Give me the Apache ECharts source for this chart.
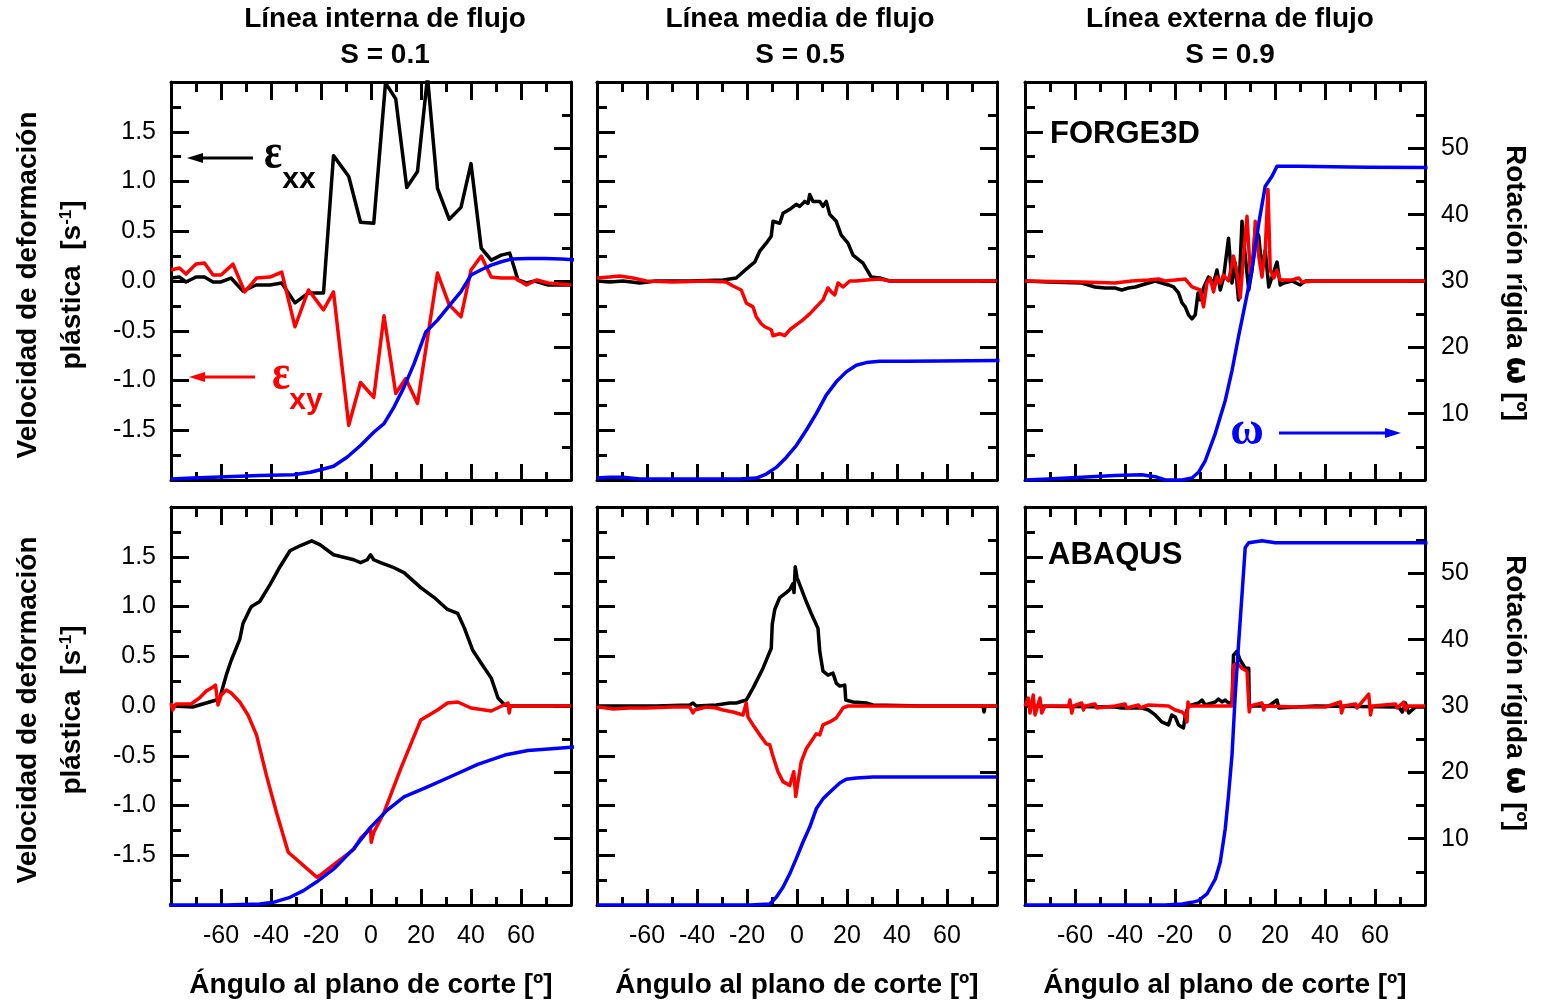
<!DOCTYPE html>
<html><head><meta charset="utf-8">
<script src="https://cdn.jsdelivr.net/npm/echarts/dist/echarts.min.js"></script>
<style>html,body{margin:0;padding:0;background:#fff}#c{width:1543px;height:1005px}</style>
</head><body><div id="c"></div>
<script>
// ---------- DATA ----------
const columnTitles = ['Línea interna de flujo', 'Línea media de flujo', 'Línea externa de flujo'];
const columnS = ['S = 0.1', 'S = 0.5', 'S = 0.9'];
const codeLabels = ['FORGE3D', 'ABAQUS'];
const xAxisTitle = 'Ángulo al plano de corte [º]';
const leftTitleLine1 = 'Velocidad de deformación';
const rightTitle = 'Rotación rígida';

// FORGE3D - inner
const forgeInnerExx = [[-80,0.03],[-76.6,0.04],[-74,-0.01],[-70,0.04],[-66.6,0.04],[-63.2,-0.01],[-60,-0.01],[-56,0.03],[-51.2,-0.1],[-46,-0.04],[-40.4,-0.04],[-35.7,-0.02],[-30.4,-0.22],[-25,-0.12],[-19,-0.12],[-15,1.26],[-8.9,1.05],[-4.2,0.59],[1.1,0.58],[5.8,1.99],[9.9,1.83],[14.3,0.94],[18.6,1.1],[22.6,2.05],[26.6,0.93],[31.3,0.62],[36,0.74],[40,1.18],[44.1,0.33],[48.1,0.21],[52.1,0.26],[55.5,0.28],[58.8,0.01],[62.2,-0.02],[65.5,0.0],[70.9,-0.04],[80,-0.04]];
const forgeInnerExy = [[-80,0.11],[-76.6,0.13],[-74,0.07],[-70,0.17],[-66.6,0.18],[-63.2,0.06],[-60,0.06],[-55.2,0.17],[-50.5,-0.11],[-45.8,0.03],[-40.4,0.04],[-35.7,0.09],[-30.4,-0.46],[-25,-0.09],[-19,-0.29],[-15,-0.11],[-8.9,-1.45],[-4.2,-1.02],[1.1,-1.17],[5.2,-0.35],[9.9,-1.13],[13.9,-0.98],[18.6,-1.23],[26.6,0.08],[31.3,-0.24],[36,-0.36],[40,0.11],[44.1,0.25],[48.1,0.04],[52.1,0.03],[57.5,0.03],[62.2,-0.04],[66.2,0.01],[70.9,-0.02],[80,-0.04]];
const forgeInnerOmega = [[-80,0.15],[-71.3,0.3],[-57.9,0.5],[-44.5,0.66],[-31,0.8],[-24.3,1.16],[-19,1.66],[-15,2.07],[-9.6,3.43],[-4.2,5.2],[1.1,7.2],[5.2,8.5],[9.2,11.0],[13.2,14.0],[17.2,17.5],[21.9,22.3],[26.6,24.1],[32,26.6],[36,28.4],[40,30.9],[44.1,31.7],[48.1,32.4],[52.1,32.9],[56.1,33.3],[62.8,33.4],[69.5,33.4],[76.2,33.3],[82,33.2]];

// FORGE3D - middle
const forgeMidExx = [[-80,0.0],[-74.9,-0.01],[-69.6,0.0],[-62.9,-0.02],[-56.3,0.0],[-42.9,0.0],[-29.6,0.01],[-24.3,0.03],[-21.6,0.09],[-18.9,0.15],[-16.9,0.19],[-14.9,0.3],[-12.3,0.38],[-10.3,0.45],[-9.6,0.6],[-6.9,0.58],[-5.6,0.68],[-2.9,0.72],[-0.3,0.77],[1.1,0.75],[3.1,0.8],[4.4,0.78],[5.1,0.87],[6.4,0.8],[9.1,0.8],[10.4,0.75],[11.7,0.8],[13.1,0.67],[15.7,0.6],[17.7,0.46],[20.4,0.38],[22.4,0.26],[26.4,0.18],[29.7,0.04],[33.1,0.03],[37.1,0.0],[50.4,0.0],[80,0.0]];
const forgeMidExy = [[-80,0.03],[-74.9,0.04],[-70.9,0.05],[-65.6,0.03],[-60.3,0.0],[-49.6,-0.01],[-36.3,0.0],[-28.3,-0.01],[-25.6,-0.05],[-22.3,-0.09],[-20.3,-0.22],[-17.6,-0.26],[-16.3,-0.36],[-14.3,-0.43],[-12.9,-0.46],[-10.3,-0.49],[-9.6,-0.55],[-6.9,-0.53],[-4.9,-0.55],[-2.9,-0.49],[-0.3,-0.44],[2.4,-0.39],[5.1,-0.33],[7.7,-0.26],[10.4,-0.19],[12.4,-0.07],[13.7,-0.11],[15.1,-0.14],[16.4,-0.02],[18.4,-0.06],[21.1,0.0],[23.7,0.0],[27.7,0.01],[33.1,0.02],[37.1,0.0],[50.4,0.0],[80,0.0]];
const forgeMidOmega = [[-80,0.3],[-74.9,0.4],[-69.6,0.4],[-62.9,0.15],[-49.6,0.15],[-36.3,0.15],[-22.9,0.15],[-16.3,0.3],[-12.3,0.9],[-8.3,1.9],[-4.3,3.4],[-0.3,5.2],[3.7,7.5],[7.7,10.0],[11.7,12.8],[15.7,14.8],[19.7,16.3],[23.7,17.3],[27.7,17.7],[33.1,17.9],[43.7,17.9],[57.1,17.95],[81,18.0]];

// FORGE3D - outer
const forgeOuterExx = [[-80,0],[-70.7,-0.01],[-57.3,-0.02],[-52,-0.06],[-48,-0.07],[-44,-0.07],[-41.3,-0.09],[-38.6,-0.07],[-35.9,-0.06],[-33.3,-0.04],[-30.6,-0.02],[-27.9,0],[-25.3,-0.02],[-22.6,-0.04],[-20.6,-0.06],[-18.6,-0.12],[-17.2,-0.22],[-15.9,-0.26],[-14.6,-0.34],[-13.2,-0.38],[-11.9,-0.34],[-10.8,-0.12],[-9.9,-0.19],[-8.6,-0.07],[-6.6,0.04],[-4.6,-0.02],[-3.2,0.11],[-1.9,-0.09],[-0.6,0.03],[1.4,0.43],[2.8,-0.02],[4.1,0.18],[5.4,-0.19],[6.8,0.6],[8.1,0.25],[9.5,-0.09],[10.8,0.11],[12.1,0.53],[13.5,0.45],[14.8,0.11],[16.1,0.31],[17.5,-0.06],[18.8,0.04],[20.8,0.19],[22.1,-0.04],[23.5,-0.02],[26.8,0],[30.1,-0.04],[32.1,0],[49.5,0],[80,0]];
const forgeOuterExy = [[-80,0],[-57.3,-0.01],[-44,-0.02],[-37.3,0],[-30.6,0.01],[-26.6,0.02],[-23.9,0],[-19.9,0.01],[-15.9,0.02],[-13.2,-0.06],[-9.9,-0.09],[-8.6,-0.26],[-7.2,-0.02],[-5.9,0.03],[-4.6,-0.11],[-3.2,0.04],[-1.9,-0.02],[-0.6,0.06],[1.4,0],[3.4,0.25],[4.8,0.08],[6.1,-0.17],[7.4,0.25],[8.8,0.65],[10.1,0.08],[11.5,0.25],[12.1,0.6],[13.5,0.25],[14.8,0.04],[16.1,0.31],[17.2,0.92],[18.1,0.11],[19.5,0.03],[20.8,0.11],[22.1,0.01],[26.8,0.01],[29.5,0.03],[30.8,-0.01],[36.2,0],[80,0]];
const forgeOuterOmega = [[-80,0],[-70.7,0.15],[-57.3,0.4],[-44,0.66],[-33.3,0.8],[-27.9,0.5],[-23.9,0],[-17.2,0],[-13.2,0.3],[-10.6,1.16],[-7.9,2.9],[-3.9,7.0],[0.1,12.0],[2.8,16.5],[5.4,21.6],[8.1,26.6],[10.8,31.7],[13.5,38.7],[16.1,44.3],[18.8,45.8],[20.8,47.3],[29.5,47.3],[49.5,47.2],[57.5,47.15],[81,47.1]];

// ABAQUS - inner
const abaqusInnerExx = [[-80,0],[-71.3,-0.01],[-67.3,0.02],[-63.2,0.05],[-60.6,0.07],[-57.9,0.31],[-55.9,0.46],[-52.5,0.67],[-51.2,0.83],[-48.5,0.97],[-47.8,1.0],[-44.5,1.05],[-40.4,1.22],[-36.4,1.4],[-32.4,1.56],[-28.4,1.61],[-23.7,1.66],[-20.3,1.62],[-15,1.52],[-6.9,1.47],[-4.2,1.44],[-1.5,1.47],[-0.2,1.52],[1.1,1.47],[3.8,1.44],[9.2,1.39],[13.2,1.34],[19.9,1.19],[25.3,1.09],[30.6,0.97],[34.7,0.93],[37.4,0.78],[40.7,0.56],[44.1,0.43],[48.1,0.28],[50.8,0.08],[53.5,0.01],[56.1,0],[80,0]];
const abaqusInnerExy = [[-80,0.03],[-79.3,-0.04],[-78,0.02],[-72,0.02],[-68.6,0.08],[-65.9,0.15],[-63.2,0.19],[-62.2,0.21],[-61.2,0.01],[-59.9,0.11],[-57.9,0.16],[-55.9,0.13],[-52.5,0.04],[-49.2,-0.09],[-45.8,-0.29],[-41.8,-0.7],[-37.8,-1.07],[-33.1,-1.47],[-21.7,-1.72],[-20.3,-1.7],[-13.6,-1.57],[-6.9,-1.44],[-4.2,-1.33],[-0.2,-1.23],[0.1,-1.37],[1.1,-1.27],[5.2,-1.07],[11.9,-0.63],[19.9,-0.14],[26.6,-0.04],[30.6,0.03],[34.7,0.04],[40,-0.02],[48.1,-0.05],[54.8,0.03],[55.3,-0.07],[55.8,0],[80,0]];
const abaqusInnerOmega = [[-82,0],[-71.3,0],[-57.9,0],[-44.5,0.15],[-39.1,0.4],[-32.4,1.16],[-27,2.17],[-21.7,3.5],[-15,5.4],[-6.9,8.5],[-0.2,11.7],[6.5,14.3],[13.2,16.3],[22.6,17.8],[33.3,19.6],[42.7,21.2],[53.5,22.6],[62.8,23.3],[73.6,23.6],[82.5,23.85]];

// ABAQUS - middle
const abaqusMidExx = [[-80,0],[-56.3,0],[-42.9,0.01],[-41.6,0.03],[-40.3,0],[-32.3,0.01],[-26.9,0.03],[-24.3,0.03],[-20.3,0.06],[-17.6,0.18],[-13.6,0.38],[-10.3,0.58],[-9.9,0.82],[-8.9,0.97],[-6.9,1.09],[-4.3,1.14],[-2.9,1.17],[-1.6,1.23],[-1.2,1.14],[-0.7,1.4],[0,1.29],[1.1,1.22],[3.7,1.05],[5.7,0.93],[8.4,0.78],[9.1,0.55],[10.4,0.35],[12.4,0.31],[14.4,0.33],[15.7,0.23],[17.1,0.2],[19.1,0.21],[19.5,0.06],[22.4,0.04],[27.7,0.03],[30.4,0.01],[50.4,0],[74.4,0],[74.8,-0.06],[75.3,0],[80,0]];
const abaqusMidExy = [[-80,-0.02],[-78.9,-0.01],[-73.6,-0.03],[-66.9,-0.02],[-60.3,-0.02],[-49.6,-0.01],[-42.9,-0.01],[-41.6,-0.07],[-40.9,-0.04],[-36.3,-0.01],[-32.3,-0.02],[-29.6,-0.04],[-25.6,-0.06],[-21.6,-0.09],[-20.3,0.03],[-19.6,-0.11],[-17.6,-0.19],[-14.9,-0.29],[-12.3,-0.38],[-10.9,-0.39],[-9.9,-0.48],[-8.9,-0.56],[-7.6,-0.66],[-5.6,-0.76],[-2.9,-0.8],[-1.3,-0.66],[-0.5,-0.91],[0.4,-0.76],[1.7,-0.56],[3.7,-0.43],[6.4,-0.33],[7.7,-0.28],[9.1,-0.29],[10.4,-0.19],[13.1,-0.16],[15.7,-0.12],[18.4,-0.02],[20.4,0],[23.7,0],[80,0]];
const abaqusMidOmega = [[-80,0],[-56.3,0],[-29.6,0],[-18.9,0],[-10.9,0.15],[-8.3,1.16],[-5.6,2.67],[-2.9,4.7],[-0.3,7.0],[2.4,9.5],[5.1,11.75],[7.7,14.5],[10.4,16.0],[13.1,17.0],[17.1,18.4],[19.7,18.96],[23.7,19.16],[30.4,19.3],[50.4,19.3],[80,19.3]];

// ABAQUS - outer
const abaqusOuterExx = [[-80,0],[-44,-0.01],[-41.3,-0.02],[-37.3,-0.02],[-33.3,-0.02],[-30.6,-0.04],[-27.9,-0.09],[-25.3,-0.16],[-22.6,-0.19],[-21.3,-0.09],[-19.9,-0.11],[-18.6,-0.19],[-16.6,-0.22],[-15.9,-0.09],[-14.6,0],[-10.6,0.03],[-9.2,0.06],[-7.9,0.01],[-3.9,0.04],[-2.6,0.07],[-1.2,0.04],[0.1,0.06],[1.4,0.03],[2.8,0.04],[3.4,0.51],[4.8,0.55],[6.1,0.46],[6.8,0.48],[8.1,0.38],[9.5,0.38],[9.7,0],[17.5,0],[20.8,0.06],[21.5,-0.02],[36.2,0],[69.5,-0.01],[70.9,-0.06],[72.2,0.03],[73.5,-0.07],[76.2,-0.01],[80,-0.01]];
const abaqusOuterExy = [[-80,0],[-78.7,0.08],[-78,-0.07],[-76.7,0.11],[-76,-0.09],[-74,0.08],[-73.3,-0.07],[-72,0],[-62.6,0],[-62,0.06],[-61.3,-0.07],[-60.6,0],[-57.3,0.03],[-56.6,-0.04],[-56,0],[-52,0.02],[-51.3,-0.02],[-44,0],[-40,0.02],[-39.3,-0.02],[-34.6,0.01],[-33.9,-0.02],[-30.6,0.01],[-22.6,0],[-19.9,-0.04],[-17.2,-0.06],[-15.9,-0.09],[-15.2,-0.16],[-14.8,0.04],[-14.6,0],[2.8,0],[3.4,0.41],[4.8,0.43],[6.8,0.38],[8.8,0.35],[9.5,0.33],[9.7,-0.06],[10.1,0],[14.8,0.03],[15.5,-0.04],[16.1,0],[28.1,-0.01],[40.2,-0.01],[46.2,0.04],[46.6,-0.07],[47.5,0],[52.2,0.02],[52.8,-0.02],[57.5,0.12],[58.2,-0.09],[58.9,0],[68.2,0.02],[68.9,-0.02],[71.5,0.04],[72.2,-0.04],[72.9,0],[80,0]];
const abaqusOuterOmega = [[-80,0],[-57.3,0],[-30.6,0],[-23.9,0],[-17.2,0.15],[-13.2,0.4],[-10.6,0.66],[-7.2,1.66],[-3.9,3.9],[-1.9,6.45],[0.1,11.5],[1.4,16.5],[2.8,22.6],[4.1,31.7],[5.4,39.2],[6.8,46.8],[8.1,53.9],[9.5,54.6],[14.8,54.9],[20.1,54.6],[36.2,54.6],[62.9,54.6],[81,54.6]];

const panels = [
  {exx: forgeInnerExx, exy: forgeInnerExy, omega: forgeInnerOmega},
  {exx: forgeMidExx, exy: forgeMidExy, omega: forgeMidOmega},
  {exx: forgeOuterExx, exy: forgeOuterExy, omega: forgeOuterOmega},
  {exx: abaqusInnerExx, exy: abaqusInnerExy, omega: abaqusInnerOmega},
  {exx: abaqusMidExx, exy: abaqusMidExy, omega: abaqusMidOmega},
  {exx: abaqusOuterExx, exy: abaqusOuterExy, omega: abaqusOuterOmega}
];

// ---------- LAYOUT ----------
const FONT = '"Liberation Sans", Arial, sans-serif';
const gridLefts = [171, 597, 1025];
const gridTops = [82, 507];
const GW = 400, GH = 398;
const BLACK = '#000000', RED = '#ff0000', BLUE = '#0000ff';
const LW = 3.5;

const chart = echarts.init(document.getElementById('c'), null, {renderer: 'canvas'});

const lineSt = {color: BLACK, width: 3};
function tickCfg(len) { return {show: true, inside: true, length: len, lineStyle: {color: BLACK, width: 3}}; }
function minorCfg(len) { return {show: true, splitNumber: 2, length: len, lineStyle: {color: BLACK, width: 3}}; }

const grids = [], xAxes = [], yAxes = [], series = [];
panels.forEach((p, i) => {
  const row = Math.floor(i / 3), col = i % 3;
  grids.push({left: gridLefts[col], top: gridTops[row], width: GW, height: GH, containLabel: false});
  const xBase = {type: 'value', gridIndex: i, min: -80, max: 80, interval: 20,
    axisLine: {show: true, onZero: false, lineStyle: lineSt},
    splitLine: {show: false}};
  xAxes.push(Object.assign({}, xBase, {position: 'bottom',
    axisTick: tickCfg(16), minorTick: minorCfg(8),
    axisLabel: {show: row === 1, color: BLACK, fontSize: 25, fontFamily: FONT, margin: 19,
      showMinLabel: false, showMaxLabel: false}}));
  xAxes.push(Object.assign({}, xBase, {position: 'top',
    axisTick: tickCfg(18), minorTick: minorCfg(10), axisLabel: {show: false}}));
  yAxes.push({type: 'value', gridIndex: i, position: 'left', min: -2, max: 2, interval: 0.5,
    axisLine: {show: true, onZero: false, lineStyle: lineSt},
    axisTick: tickCfg(18), minorTick: minorCfg(10), splitLine: {show: false},
    axisLabel: {show: col === 0, color: BLACK, fontSize: 25, fontFamily: FONT, margin: 15,
      showMinLabel: false, showMaxLabel: false, formatter: v => v.toFixed(1)}});
  yAxes.push({type: 'value', gridIndex: i, position: 'right', min: 0, max: 60, interval: 10,
    axisLine: {show: true, onZero: false, lineStyle: lineSt},
    axisTick: tickCfg(17), minorTick: minorCfg(9), splitLine: {show: false},
    axisLabel: {show: col === 2, color: BLACK, fontSize: 25, fontFamily: FONT, margin: 16,
      showMinLabel: false, showMaxLabel: false}});
  const common = {type: 'line', showSymbol: false, symbol: 'none', xAxisIndex: 2 * i, animation: false};
  series.push(Object.assign({}, common, {yAxisIndex: 2 * i, data: p.exx, clip: true,
    lineStyle: {color: BLACK, width: LW, join: 'round'}, itemStyle: {color: BLACK}, z: 3}));
  series.push(Object.assign({}, common, {yAxisIndex: 2 * i, data: p.exy, clip: true,
    lineStyle: {color: RED, width: LW, join: 'round'}, itemStyle: {color: RED}, z: 4}));
  series.push(Object.assign({}, common, {yAxisIndex: 2 * i + 1, data: p.omega, clip: false,
    lineStyle: {color: BLUE, width: LW, join: 'round'}, itemStyle: {color: BLUE}, z: 5}));
});

// ---------- TEXT / ANNOTATIONS ----------
const graphics = [];
function txt(text, x, y, size, opts) {
  opts = opts || {};
  graphics.push({type: 'text', x: x, y: y, rotation: opts.rotation || 0, z: 100,
    scaleX: opts.scaleX || 1, scaleY: opts.scaleY || 1,
    style: {text: text, fill: opts.color || BLACK, fontSize: size, fontWeight: opts.weight || 'bold',
      fontFamily: opts.family || FONT, align: opts.align || 'center', verticalAlign: 'middle',
      rich: opts.rich}});
}
const colTitleX = [385, 800, 1230];
const colAxisX = [371, 797, 1225];
columnTitles.forEach((t, c) => {
  txt(t, colTitleX[c], 19, 28);
  txt(columnS[c], colTitleX[c], 55, 28);
  txt(xAxisTitle, colAxisX[c], 985, 28);
});
const rowMidY = [285, 710];
const rightMidY = [283, 693];
rowMidY.forEach((y, r) => {
  txt(leftTitleLine1, 28, y, 28, {rotation: Math.PI / 2});
  txt('plástica  [s{sup|-1}]', 72, y, 28, {rotation: Math.PI / 2,
    rich: {sup: {fontSize: 17, fontWeight: 'bold', fontFamily: FONT, verticalAlign: 'top', fill: BLACK}}});
  txt(rightTitle + ' {w|ω} [º]', 1515, rightMidY[r], 28, {rotation: -Math.PI / 2,
    rich: {w: {fontSize: 32, fontWeight: 'bold', fontFamily: '"DejaVu Sans", sans-serif', fill: BLACK}}});
});
txt(codeLabels[0], 1050, 134, 31, {align: 'left'});
txt(codeLabels[1], 1048, 555, 31, {align: 'left'});

// epsilon labels
txt('ε', 273, 155, 50, {family: '"Liberation Serif", serif', weight: 'bold', scaleX: 0.85});
txt('xx', 299, 180, 30);
txt('ε', 281, 376, 50, {family: '"Liberation Serif", serif', weight: 'bold', color: RED, scaleX: 0.85});
txt('xy', 306, 401, 30, {color: RED});
txt('ω', 1247, 432, 46, {family: '"Liberation Serif", serif', color: BLUE});

function arrow(x1, x2, y, color) {
  const dir = x2 < x1 ? -1 : 1;
  graphics.push({type: 'line', z: 100, shape: {x1: x1, y1: y, x2: x2 - dir * 10, y2: y},
    style: {stroke: color, lineWidth: 3}});
  graphics.push({type: 'polygon', z: 100, shape: {points: [[x2, y], [x2 - dir * 16, y - 5], [x2 - dir * 16, y + 5]]},
    style: {fill: color}});
}
arrow(253, 187, 158, BLACK);
arrow(255, 189, 377, RED);
arrow(1279, 1401, 433, BLUE);

chart.setOption({
  animation: false,
  backgroundColor: '#ffffff',
  grid: grids, xAxis: xAxes, yAxis: yAxes, series: series,
  graphic: graphics
});
</script></body></html>
